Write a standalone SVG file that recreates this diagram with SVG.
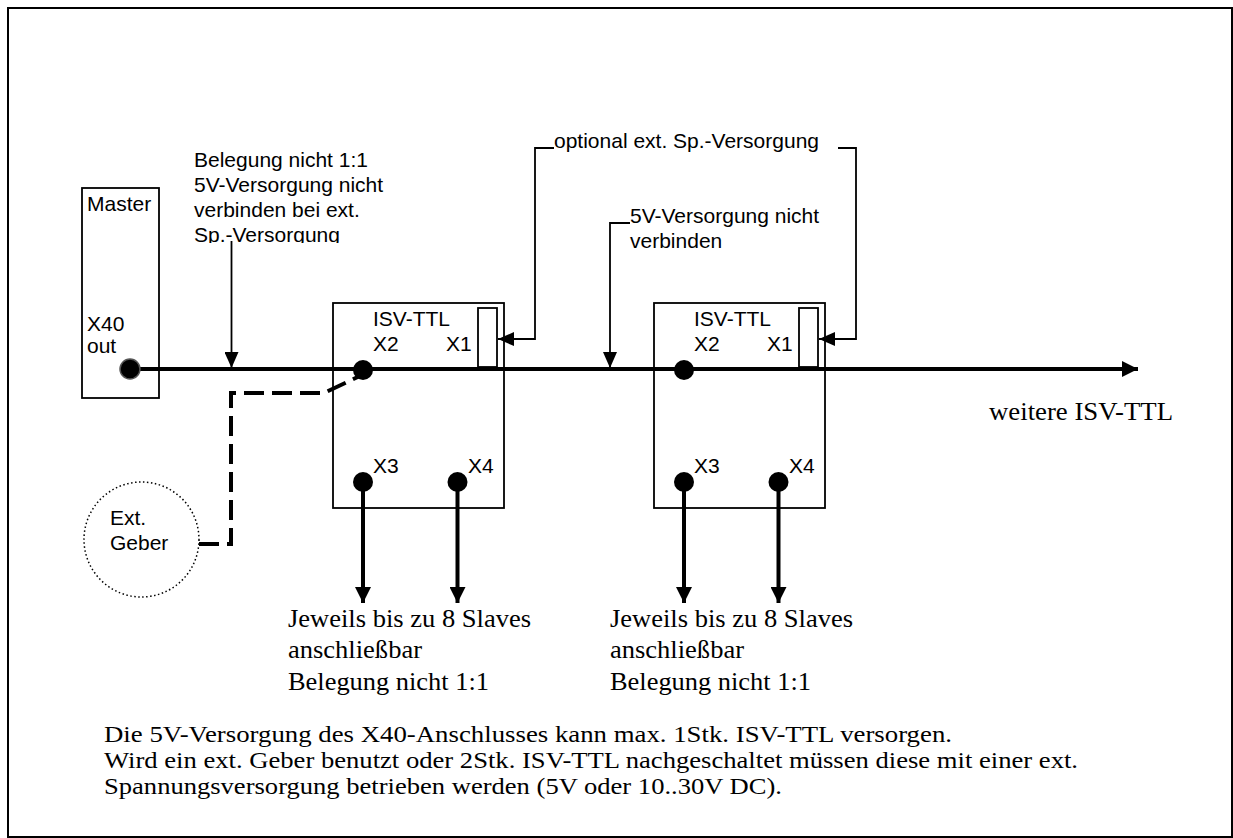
<svg xmlns="http://www.w3.org/2000/svg" width="1233" height="838" viewBox="0 0 1233 838">
<defs>
<style>
.sans{font-family:"Liberation Sans",Arial,sans-serif;font-size:21px;fill:#000}
.serif{font-family:"Liberation Serif","Times New Roman",serif;font-size:25px;fill:#000}
.note{font-family:"Liberation Serif","Times New Roman",serif;font-size:24px;fill:#000}
.box{fill:#fff;stroke:#000;stroke-width:1.8}
.thin{fill:none;stroke:#000;stroke-width:1.8}
.thick{fill:none;stroke:#000;stroke-width:4}
.dot{fill:#000}
</style>
<marker id="ah" viewBox="0 0 16 14" refX="16" refY="7" markerWidth="16" markerHeight="14" markerUnits="userSpaceOnUse" orient="auto">
<path d="M0,0 L16,7 L0,14 Z" fill="#000"/>
</marker>
<marker id="ahb" viewBox="0 0 16 16" refX="16" refY="8" markerWidth="16" markerHeight="16" markerUnits="userSpaceOnUse" orient="auto">
<path d="M0,0 L16,8 L0,16 Z" fill="#000"/>
</marker>
<clipPath id="clipnote"><rect x="180" y="140" width="240" height="103"/></clipPath>
</defs>
<rect x="8" y="8" width="1224" height="829" fill="#fff" stroke="#000" stroke-width="2"/>

<g id="master">
<rect class="box" x="82" y="188" width="77" height="210"/>
<text class="sans" x="87" y="211">Master</text>
<text class="sans" x="87" y="331">X40</text>
<text class="sans" x="87" y="353">out</text>
</g>

<g id="isv1">
<rect class="box" x="333" y="303" width="171" height="205"/>
<rect class="box" x="478" y="308" width="19" height="59"/>
<text class="sans" x="373" y="326">ISV-TTL</text>
<text class="sans" x="373" y="351">X2</text>
<text class="sans" x="446" y="351">X1</text>
<text class="sans" x="373" y="473">X3</text>
<text class="sans" x="468" y="473">X4</text>
</g>

<g id="isv2">
<rect class="box" x="654" y="303" width="171" height="205"/>
<rect class="box" x="799" y="308" width="19" height="59"/>
<text class="sans" x="694" y="326">ISV-TTL</text>
<text class="sans" x="694" y="351">X2</text>
<text class="sans" x="767" y="351">X1</text>
<text class="sans" x="694" y="473">X3</text>
<text class="sans" x="789" y="473">X4</text>
</g>

<g id="geber">
<circle cx="141.5" cy="539.5" r="57.5" fill="none" stroke="#000" stroke-width="1.5" stroke-dasharray="1.5 2.5"/>
<text class="sans" x="110" y="525">Ext.</text>
<text class="sans" x="110" y="550">Geber</text>
</g>

<g id="connectors">
<line class="thick" x1="130" y1="369" x2="1138" y2="369" marker-end="url(#ahb)"/>
<path d="M199,544 H231 V393 H324 L362,375" fill="none" stroke="#000" stroke-width="4" stroke-dasharray="20 8"/>
<line class="thick" x1="363" y1="482" x2="363" y2="603" marker-end="url(#ahb)"/>
<line class="thick" x1="457.5" y1="482" x2="457.5" y2="603" marker-end="url(#ahb)"/>
<line class="thick" x1="684" y1="482" x2="684" y2="603" marker-end="url(#ahb)"/>
<line class="thick" x1="778.5" y1="482" x2="778.5" y2="603" marker-end="url(#ahb)"/>
<line class="thin" x1="231.5" y1="241" x2="231.5" y2="368" marker-end="url(#ah)"/>
<path class="thin" d="M554,148 H535 V339 H498" marker-end="url(#ah)"/>
<path class="thin" d="M838,148 H856 V339 H819" marker-end="url(#ah)"/>
<path class="thin" d="M630,223 H610 V368" marker-end="url(#ah)"/>
</g>

<g id="ports">
<circle cx="130" cy="369" r="10" fill="#000" stroke="#555" stroke-width="1.5"/>
<circle class="dot" cx="363" cy="370" r="10"/>
<circle class="dot" cx="363" cy="482" r="10"/>
<circle class="dot" cx="457.5" cy="482" r="10"/>
<circle class="dot" cx="684" cy="370" r="10"/>
<circle class="dot" cx="684" cy="482" r="10"/>
<circle class="dot" cx="778.5" cy="482" r="10"/>
</g>

<g id="labels">
<g clip-path="url(#clipnote)">
<text class="sans" x="194" y="167">Belegung nicht 1:1</text>
<text class="sans" x="194" y="192">5V-Versorgung nicht</text>
<text class="sans" x="194" y="217">verbinden bei ext.</text>
<text class="sans" x="194" y="242">Sp.-Versorgung</text>
</g>
<text class="sans" x="554" y="148">optional ext. Sp.-Versorgung</text>
<text class="sans" x="630" y="223">5V-Versorgung nicht</text>
<text class="sans" x="630" y="248">verbinden</text>
<text class="serif" x="989" y="420" textLength="184" lengthAdjust="spacingAndGlyphs">weitere ISV-TTL</text>
<text class="serif" x="288" y="627" textLength="243" lengthAdjust="spacingAndGlyphs">Jeweils bis zu 8 Slaves</text>
<text class="serif" x="288" y="658" textLength="134" lengthAdjust="spacingAndGlyphs">anschließbar</text>
<text class="serif" x="288" y="690" textLength="201" lengthAdjust="spacingAndGlyphs">Belegung nicht 1:1</text>
<text class="serif" x="610" y="627" textLength="243" lengthAdjust="spacingAndGlyphs">Jeweils bis zu 8 Slaves</text>
<text class="serif" x="610" y="658" textLength="134" lengthAdjust="spacingAndGlyphs">anschließbar</text>
<text class="serif" x="610" y="690" textLength="201" lengthAdjust="spacingAndGlyphs">Belegung nicht 1:1</text>
<text class="note" x="104" y="742" textLength="848" lengthAdjust="spacingAndGlyphs">Die 5V-Versorgung des X40-Anschlusses kann max. 1Stk. ISV-TTL versorgen.</text>
<text class="note" x="104" y="768" textLength="974" lengthAdjust="spacingAndGlyphs">Wird ein ext. Geber benutzt oder 2Stk. ISV-TTL nachgeschaltet müssen diese mit einer ext.</text>
<text class="note" x="104" y="794" textLength="678" lengthAdjust="spacingAndGlyphs">Spannungsversorgung betrieben werden (5V oder 10..30V DC).</text>
</g>
</svg>
